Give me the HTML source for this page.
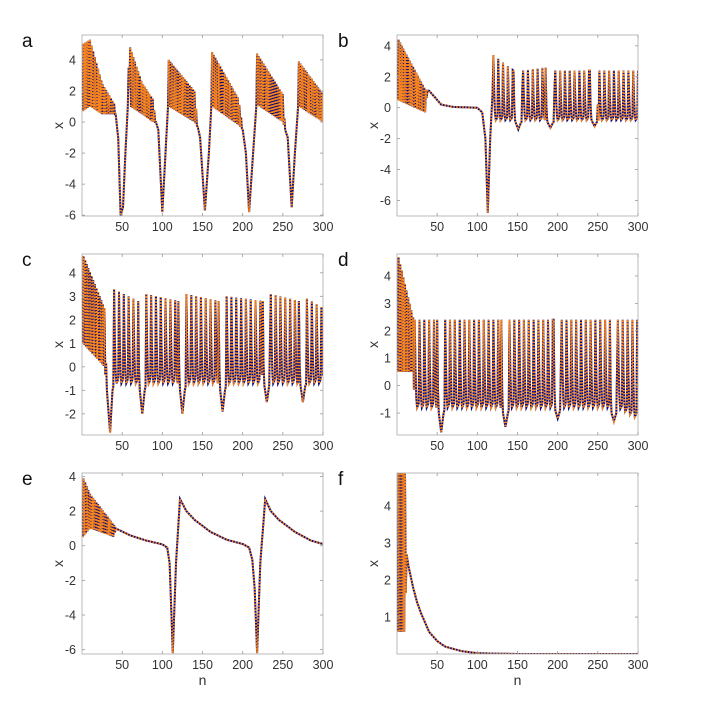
<!DOCTYPE html>
<html><head><meta charset="utf-8">
<style>
body{margin:0;background:#fff;width:707px;height:701px;overflow:hidden;font-family:"Liberation Sans",sans-serif}
svg{display:block}
</style></head>
<body>
<svg id="fig" width="707" height="701" viewBox="0 0 707 701" xmlns="http://www.w3.org/2000/svg"></svg>
<script>
// x axis data shared
const xTicks = [50, 100, 150, 200, 250, 300];
// Keypoints per panel: n, upper envelope, lower envelope, oscillation period
const aN   = [1,10,25,40,42,45,48,51,54,57,58,60,75,88,92,95,100,104,107,108,140,144,147,153,158,161,162,195,200,204,208,213,217,218,250,253,256,261,265,269,270,300];
const aHi  = [5,5.3,2.5,1.2,0.5,-1,-6,-5.5,-2,1,3.5,4.8,2.5,1.5,0,-0.5,-5.8,-2,1,4,2,-0.3,-1,-5.7,-2,1,4.5,1.5,-0.5,-2,-5.8,-2,1,4.4,1.8,-0.5,-1,-5.5,-2,1,3.9,1.8];
const aLo  = [0.7,1,0.5,0.5,0.5,-1,-6,-5.5,-2,1,3.5,1,0.5,0,0,-0.5,-5.8,-2,1,1,0,-0.3,-1,-5.7,-2,1,1,-0.2,-0.5,-2,-5.8,-2,1,1.1,0,-0.5,-1,-5.5,-2,1,1,0];
const aP   = [1,1,1,1,1,1,1,1,1,1,1,1,1,1,1,1,1,1,1,1,1,1,1,1,1,1,1,1,1,1,1,1,1,1,1,1,1,1,1,1,1,1];

const bN   = [1,35,38,40,55,70,100,106,110,113,116,119,120,145,148,151,154,157,185,188,191,194,197,240,243,246,249,252,300];
const bHi  = [4.5,1.2,1.1,1.1,0.2,0.05,0,-0.3,-2,-6.8,-2,1,3.4,2.4,-1,-1.4,-1,2.4,2.6,-1,-1.3,-1,2.4,2.4,-0.9,-1.2,-0.9,2.4,2.4];
const bLo  = [0.5,-0.3,1.1,1.1,0.2,0.05,0,-0.3,-2,-6.8,-2,1,-0.8,-0.8,-1,-1.4,-1,-0.8,-0.8,-1,-1.3,-1,-0.8,-0.8,-0.9,-1.2,-0.9,-0.8,-0.8];
const bP   = [1,1,1,1,1,1,1,1,1,1,1,1,6,6,1,1,1,6,6,1,1,1,6,6,1,1,1,6,6];

const cN   = [1,28,31,35,38,40,70,72,75,78,80,120,122,125,128,130,170,172,175,178,180,225,227,230,233,235,270,272,275,278,280,300];
const cHi  = [4.8,2.5,-1,-2.8,-1,3.3,2.8,-1,-2,-1,3.1,2.8,-1,-2,-1,3.1,2.8,-1,-1.9,-1,3,2.8,-0.8,-1.5,-0.8,3.1,2.8,-0.8,-1.5,-0.8,2.9,2.5];
const cLo  = [1,0,-1,-2.8,-1,-0.7,-0.7,-1,-2,-1,-0.7,-0.7,-1,-2,-1,-0.7,-0.7,-1,-1.9,-1,-0.7,-0.7,-0.8,-1.5,-0.8,-0.7,-0.7,-0.8,-1.5,-0.8,-0.7,-0.7];
const cP   = [1,1,1,1,1,6,6,1,1,1,6,6,1,1,1,6,6,1,1,1,6,6,1,1,1,6,6,1,1,1,6,6];

const dN   = [1,20,22,50,52,55,58,60,130,132,135,138,140,195,197,200,203,205,265,267,270,273,275,300];
const dHi  = [4.8,2.5,2.4,2.4,-1,-1.7,-1,2.4,2.4,-1,-1.5,-1,2.4,2.4,-0.9,-1.2,-0.9,2.4,2.4,-1,-1.3,-1,2.4,2.4];
const dLo  = [0.5,0.5,-0.8,-0.8,-1,-1.7,-1,-0.8,-0.8,-1,-1.5,-1,-0.8,-0.8,-0.9,-1.2,-0.9,-0.8,-0.8,-1,-1.3,-1,-0.8,-1.2];
const dP   = [1,1,6,6,1,1,1,6,6,1,1,1,6,6,1,1,1,6,6,1,1,1,6,6];

const eN   = [1,10,40,42,60,80,100,106,109,113,117,122,130,140,160,180,200,208,212,215,218,222,228,235,245,265,285,300];
const eHi  = [4,3,1.2,1,0.6,0.3,0.08,-0.1,-1,-6.2,-1,2.7,2.0,1.5,0.8,0.35,0.1,-0.1,-0.8,-2.5,-6.2,-1,2.7,2.0,1.5,0.8,0.3,0.1];
const eLo  = [0.5,1,0.5,1,0.6,0.3,0.08,-0.1,-1,-6.2,-1,2.7,2.0,1.5,0.8,0.35,0.1,-0.1,-0.8,-2.5,-6.2,-1,2.7,2.0,1.5,0.8,0.3,0.1];
const eP   = [1,1,1,1,1,1,1,1,1,1,1,1,1,1,1,1,1,1,1,1,1,1,1,1,1,1,1,1];

const fN   = [1,10,12,15,20,25,30,40,50,60,80,100,150,300];
const fHi  = [4.9,4.9,2.7,2.3,1.8,1.4,1.1,0.6,0.35,0.2,0.08,0.02,0,0];
const fLo  = [0.6,0.6,2.7,2.3,1.8,1.4,1.1,0.6,0.35,0.2,0.08,0.02,0,0];
const fP   = [1,1,1,1,1,1,1,1,1,1,1,1,1,1];

const aTicks = [-6,-4,-2,0,2,4];
const bTicks = [-6,-4,-2,0,2,4];
const cTicks = [-2,-1,0,1,2,3,4];
const dTicks = [-1,0,1,2,3,4];
const eTicks = [-6,-4,-2,0,2,4];
const fTicks = [1,2,3,4];

const NS = "http://www.w3.org/2000/svg";
const svg = document.getElementById('fig');

const panels = [
 {id:'a', x:82, y:35, n:aN, hi:aHi, lo:aLo, p:aP, ticks:aTicks, ymin:-6.05, ymax:5.6, xl:false},
 {id:'b', x:397, y:35, n:bN, hi:bHi, lo:bLo, p:bP, ticks:bTicks, ymin:-7, ymax:4.7, xl:false},
 {id:'c', x:82, y:254, n:cN, hi:cHi, lo:cLo, p:cP, ticks:cTicks, ymin:-2.9, ymax:4.8, xl:false},
 {id:'d', x:397, y:254, n:dN, hi:dHi, lo:dLo, p:dP, ticks:dTicks, ymin:-1.8, ymax:4.8, xl:false},
 {id:'e', x:82, y:473, n:eN, hi:eHi, lo:eLo, p:eP, ticks:eTicks, ymin:-6.25, ymax:4.2, xl:true},
 {id:'f', x:397, y:473, n:fN, hi:fHi, lo:fLo, p:fP, ticks:fTicks, ymin:0, ymax:4.9, xl:true}
];
const W = 241, H = 181;

function mk(tag, attrs){ const e=document.createElementNS(NS,tag); for(const k in attrs) e.setAttribute(k,attrs[k]); return e; }

function series(pn){
  const pts=[];
  for(let n=1;n<=300;n++){
    let i=0; while(i<pn.n.length-2 && pn.n[i+1]<=n) i++;
    const n0=pn.n[i], n1=pn.n[i+1];
    const t=Math.max(0,Math.min(1,(n-n0)/(n1-n0)));
    const hi=pn.hi[i]+(pn.hi[i+1]-pn.hi[i])*t;
    const lo=pn.lo[i]+(pn.lo[i+1]-pn.lo[i])*t;
    const per=pn.p[i];
    let v;
    if(Math.abs(hi-lo)<1e-9) v=hi;
    else if(per<=1) v=(n%2===0)?hi:lo;
    else { const ph=(n-n0)%per; const s=[1,0.45,0.1,0,0.02,0.05][ph]||0; v=lo+(hi-lo)*s; }
    pts.push([n,v]);
  }
  return pts;
}

panels.forEach(pn=>{
  const g=mk('g',{});
  
  
  svg.appendChild(g);
  const xs=n=>pn.x+(n/300)*W;
  const ys=v=>pn.y+H-(v-pn.ymin)/(pn.ymax-pn.ymin)*H;
  const L=mk('text',{x:(pn.id==='a'||pn.id==='c'||pn.id==='e')?22:338, y:pn.y+12, 'font-size':19, fill:'#111'});
  
  
  L.textContent=pn.id; g.appendChild(L);
  const cp=mk('clipPath',{id:'cp'+pn.id}); cp.appendChild(mk('rect',{x:pn.x,y:pn.y,width:W,height:H})); g.appendChild(cp);
  const pts=series(pn);
  const d=pts.map((q,k)=>(k?'L':'M')+xs(q[0]).toFixed(1)+' '+ys(q[1]).toFixed(1)).join('');
  const blue=mk('path',{d, fill:'none', stroke:'#0a0a78', 'stroke-width':2, 'clip-path':'url(#cp'+pn.id+')'});
  
  
  g.appendChild(blue);
  const orange=mk('path',{d, fill:'none', stroke:'#f7841e', 'stroke-width':2, 'stroke-dasharray':'1.5 1.5', 'clip-path':'url(#cp'+pn.id+')'});
  
  
  g.appendChild(orange);
  const box=mk('rect',{x:pn.x,y:pn.y,width:W,height:H,fill:'none',stroke:'#aaa','stroke-width':0.8});
  
  
  g.appendChild(box);
  xTicks.forEach(t=>{
    const X=xs(t);
    g.appendChild(mk('line',{x1:X,x2:X,y1:pn.y+H,y2:pn.y+H-3,stroke:'#999','stroke-width':0.8}));
    g.appendChild(mk('line',{x1:X,x2:X,y1:pn.y,y2:pn.y+3,stroke:'#999','stroke-width':0.8}));
    const tx=mk('text',{x:X,y:pn.y+H+15,'font-size':12.5,fill:'#333','text-anchor':'middle'});
    
    
    tx.textContent=t; g.appendChild(tx);
  });
  pn.ticks.forEach(t=>{
    const Y=ys(t);
    g.appendChild(mk('line',{x1:pn.x,x2:pn.x+3,y1:Y,y2:Y,stroke:'#999','stroke-width':0.8}));
    g.appendChild(mk('line',{x1:pn.x+W,x2:pn.x+W-3,y1:Y,y2:Y,stroke:'#999','stroke-width':0.8}));
    const ty=mk('text',{x:pn.x-6,y:Y+4.5,'font-size':12.5,fill:'#333','text-anchor':'end'});
    
    
    ty.textContent=t; g.appendChild(ty);
  });
  const yl=mk('text',{x:0,y:0,'font-size':14,fill:'#333','text-anchor':'middle',transform:'translate('+(pn.x-19)+','+(pn.y+H/2)+') rotate(-90)'});
  
  
  yl.textContent='x'; g.appendChild(yl);
  if(pn.xl){
    const xl=mk('text',{x:pn.x+W/2,y:pn.y+H+31,'font-size':14,fill:'#333','text-anchor':'middle'});
    
    
    xl.textContent='n'; g.appendChild(xl);
  }
});
</script>
</body></html>
